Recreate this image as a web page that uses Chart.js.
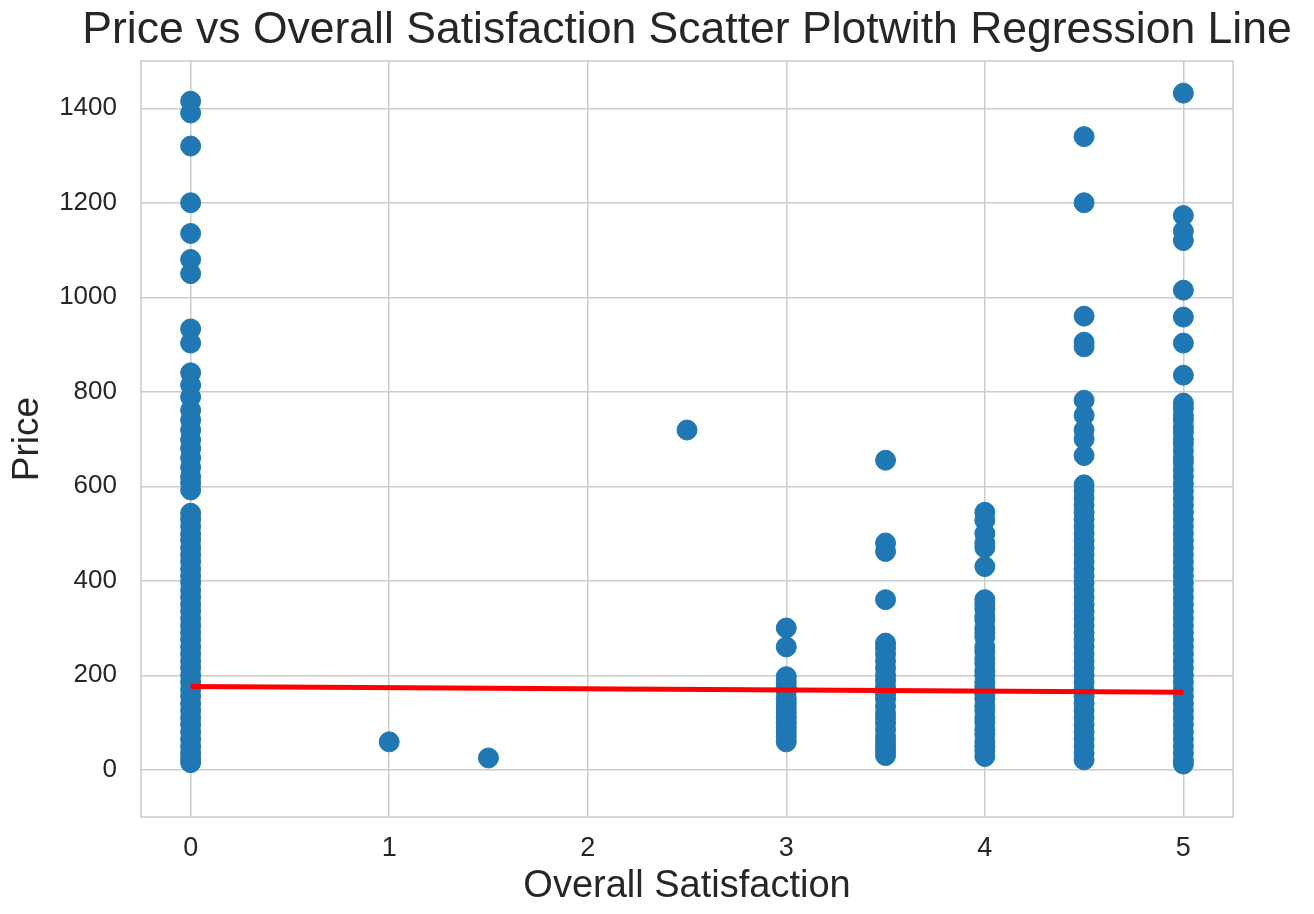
<!DOCTYPE html>
<html>
<head>
<meta charset="utf-8">
<script src="https://cdn.jsdelivr.net/npm/chart.js@4/dist/chart.umd.min.js"></script>
<style>
html, body { margin: 0; padding: 0; background: #ffffff; }
#wrap { width: 1314px; height: 914px; }
</style>
</head>
<body>
<div id="wrap"><canvas id="canvas"></canvas></div>
<script>
// overall satisfaction ratings and the listing prices
var ratings = [0, 1, 1.5, 2.5, 3, 3.5, 4, 4.5, 5];
var prices0 = [1415, 1390, 1320, 1200, 1135, 1080, 1050, 933, 903, 840, 814, 789, 761, 740, 719, 698, 680, 660, 640, 620, 607, 592,
  543, 530, 515, 499, 486, 470, 455, 441, 425, 410, 396, 380, 365, 350, 336, 320, 305, 290, 276, 260, 245, 230, 216, 200, 185, 170,
  156, 140, 125, 110, 96, 80, 65, 50, 36, 24, 15];
var prices1 = [59];
var prices15 = [25];
var prices25 = [719];
var prices3 = [300, 260, 197, 186, 175, 165, 150, 140, 130, 120, 110, 100, 90, 80, 70, 59];
var prices35 = [655, 480, 462, 360, 268, 258, 245, 230, 215, 200, 189, 175, 160, 150, 135, 120, 110, 99, 85, 70, 60, 50, 40, 30];
var prices4 = [545, 528, 500, 480, 470, 430, 360, 350, 340, 325, 317, 300, 290, 281, 260, 250, 235, 225, 210, 200, 185, 175, 160,
  150, 135, 125, 110, 100, 85, 75, 60, 50, 40, 28];
var prices45 = [1340, 1200, 960, 905, 895, 782, 750, 719, 700, 665, 603, 590, 575, 560, 545, 530, 515, 500, 485, 470, 455, 440, 425,
  410, 395, 380, 365, 350, 335, 320, 305, 290, 275, 260, 245, 230, 215, 200, 185, 170, 155, 140, 125, 110, 95, 80, 65, 50, 35, 21];
var prices5 = [1432, 1173, 1140, 1120, 1015, 958, 903, 835, 776, 765, 750, 740, 725, 715, 700, 690, 675, 660, 650, 635, 620, 605,
  590, 575, 560, 545, 530, 515, 500, 485, 470, 455, 440, 425, 410, 395, 380, 365, 350, 335, 320, 305, 290, 275, 260, 245, 230,
  215, 200, 185, 170, 155, 140, 125, 110, 95, 80, 65, 50, 35, 20, 12];
var priceGroups = [prices0, prices1, prices15, prices25, prices3, prices35, prices4, prices45, prices5];

// fitted regression line end points
var regX = [0, 5];
var regY = [176, 164];

var xTicks = [0, 1, 2, 3, 4, 5];
var yTicks = [0, 200, 400, 600, 800, 1000, 1200, 1400];

var points = [];
ratings.forEach(function (r, i) {
  priceGroups[i].forEach(function (p) {
    points.push({ x: r, y: p });
  });
});
var regLine = regX.map(function (x, i) { return { x: x, y: regY[i] }; });

var textColor = '#262626';
var gridColor = '#cccccc';
var fontFamily = '"Liberation Sans", Arial, sans-serif';

// seaborn style box round the plot area, title centred over the axes like matplotlib
var framePlugin = {
  id: 'frame',
  afterLayout: function (chart) {
    var a = chart.chartArea;
    var mid = (a.left + a.right) / 2;
    var w = chart.width;
    chart.titleBlock.left = 2 * mid - w;
    chart.titleBlock.right = w;
  },
  beforeDatasetsDraw: function (chart) {
    var a = chart.chartArea;
    var ctx = chart.ctx;
    ctx.save();
    ctx.strokeStyle = gridColor;
    ctx.lineWidth = 1.5;
    ctx.strokeRect(a.left, a.top, a.right - a.left, a.bottom - a.top);
    ctx.restore();
  }
};

var ctx = document.getElementById('canvas').getContext('2d');
var myChart = new Chart(ctx, {
  type: 'scatter',
  data: {
    datasets: [
      {
        type: 'line',
        data: regLine,
        borderColor: '#ff0000',
        borderWidth: 5,
        pointRadius: 0,
        fill: false,
        order: 0
      },
      {
        data: points,
        backgroundColor: '#1f77b4',
        borderColor: '#1f77b4',
        pointRadius: 10,
        pointBorderWidth: 1,
        order: 1
      }
    ]
  },
  options: {
    responsive: true,
    maintainAspectRatio: false,
    animation: false,
    layout: { padding: { left: 0, right: 81, top: 0, bottom: 0 } },
    plugins: {
      legend: { display: false },
      tooltip: { enabled: false },
      title: {
        display: true,
        text: 'Price vs Overall Satisfaction Scatter Plotwith Regression Line',
        color: textColor,
        fullSize: true,
        font: { family: fontFamily, size: 44.5, weight: 'normal' },
        padding: { top: 3.8, bottom: 3.8 }
      }
    },
    scales: {
      x: {
        type: 'linear',
        min: -0.25,
        max: 5.25,
        afterBuildTicks: function (s) { s.ticks = xTicks.map(function (v) { return { value: v }; }); },
        afterFit: function (s) { s.height = 97; },
        grid: { color: gridColor, lineWidth: 1.5, drawTicks: false },
        border: { display: false },
        ticks: {
          color: textColor, padding: 15, font: { family: fontFamily, size: 27 },
          callback: function (v) { return String(v); }
        },
        title: {
          display: true,
          text: 'Overall Satisfaction',
          color: textColor,
          font: { family: fontFamily, size: 38 },
          padding: { top: 0, bottom: 5 }
        }
      },
      y: {
        type: 'linear',
        min: -100,
        max: 1500,
        afterBuildTicks: function (s) { s.ticks = yTicks.map(function (v) { return { value: v }; }); },
        afterFit: function (s) { s.width = 141; },
        grid: { color: gridColor, lineWidth: 1.5, drawTicks: false },
        border: { display: false },
        ticks: {
          color: textColor, padding: 24, font: { family: fontFamily, size: 26 },
          callback: function (v) { return String(v); }
        },
        title: {
          display: true,
          text: 'Price',
          color: textColor,
          font: { family: fontFamily, size: 37 },
          padding: { top: 6, bottom: 0 }
        }
      }
    }
  },
  plugins: [framePlugin]
});
</script>
</body>
</html>
